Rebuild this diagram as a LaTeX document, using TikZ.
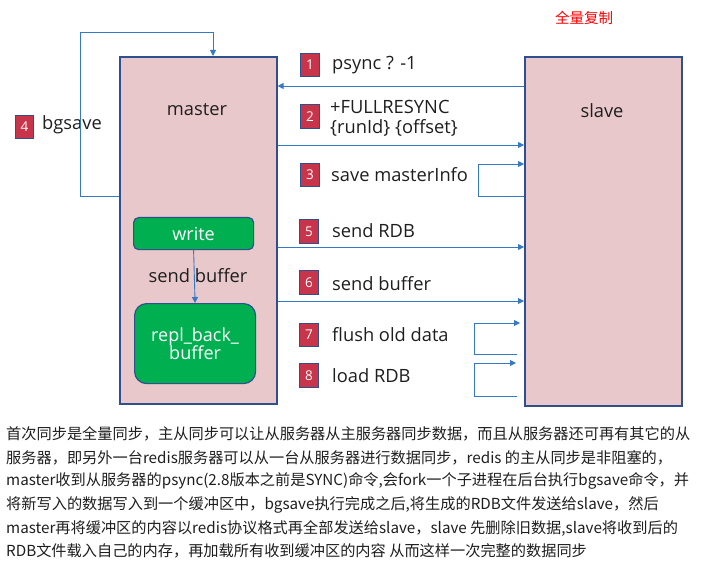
\documentclass[tikz,border=0pt]{standalone}
\usepackage{fontspec}
\setmainfont{Open Sans}
\newfontfamily\cjk{Noto Sans CJK SC}
\usetikzlibrary{arrows.meta}
\definecolor{pinkfill}{HTML}{E8C8CA}
\definecolor{boxborder}{HTML}{2F4F8F}
\definecolor{linkblue}{HTML}{3579C4}
\definecolor{badgered}{HTML}{C8344A}
\definecolor{greenfill}{HTML}{00B050}
\definecolor{txt}{HTML}{1E1E1E}
\tikzset{
  bigbox/.style={draw=boxborder, line width=1.6pt, fill=pinkfill},
  greenbox/.style={draw=boxborder, line width=1.2pt, fill=greenfill, rounded corners=5pt, text=white, font=\fontsize{18}{20}\selectfont, align=center},
  badge/.style={draw=boxborder, line width=1.2pt, fill=badgered, text=white, minimum width=18.5pt, minimum height=23.5pt, inner sep=0pt, font=\fontsize{13.5}{14}\selectfont},
  lbl/.style={anchor=west, inner sep=0pt, text=txt, font=\fontsize{18.3}{21.5}\selectfont, align=left},
  link/.style={draw=linkblue, line width=0.9pt},
  arr/.style={link, -{Triangle[length=6pt,width=6pt]}},
  para/.style={anchor=west, inner sep=0pt, text=txt, font=\cjk\fontsize{15.2}{18}\selectfont}
}
\begin{document}
\begin{tikzpicture}[x=1pt,y=-1pt]
\useasboundingbox (0,0) rectangle (722,577);
% title
\node[text=red, font=\cjk\fontsize{14.5}{16}\selectfont, inner sep=0pt] (title) at (584,18) {全量复制};
% main boxes
\node[bigbox, minimum width=157pt, minimum height=347pt, inner sep=0pt, anchor=north west] (master) at (119,56) {};
\node[bigbox, minimum width=157pt, minimum height=349pt, inner sep=0pt, anchor=north west] (slave) at (524,56) {};
\node[text=txt, font=\fontsize{18.3}{21}\selectfont, inner sep=0pt] (mtext) at (197,110) {master};
\node[text=txt, font=\fontsize{18.3}{21}\selectfont, inner sep=0pt] (stext) at (602,111) {slave};
% green boxes
\node[greenbox, minimum width=120pt, minimum height=32pt, anchor=north west, inner sep=0pt] (write) at (133,217) {write};
\node[greenbox, minimum width=121pt, minimum height=80pt, anchor=north west, inner sep=0pt, rounded corners=12pt] (repl) at (134,303) {repl\_back\_\\[-2pt]buffer};
\draw[arr] (write.south) -- (repl.north);
\node[text=txt, font=\fontsize{18.3}{21}\selectfont, inner sep=0pt] (sbuf) at (198,276) {send buffer};
% bgsave loop
\node[badge] (b4) at (24.5,127) {4};
\node[lbl] (l4) at (42,125) {bgsave};
\coordinate (bgA) at (80,196);
\coordinate (bgB) at (80,32);
\coordinate (bgC) at (213,32);
\draw[arr] (master.west |- bgA) -- (bgA) -- (bgB) -- (bgC) -- (master.north -| bgC);
% step 1
\node[badge] (b1) at (310,65) {1};
\node[lbl] (l1) at (332,65) {psync ? -1};
\coordinate (y1) at (0,86);
\draw[arr] (slave.west |- y1) -- (master.east |- y1);
% step 2
\node[badge] (b2) at (310,116.5) {2};
\node[lbl] (l2) at (330,118.5) {+FULLRESYNC\\[-1.5pt]\{runId\} \{offset\}};
\coordinate (y2) at (0,145);
\draw[arr] (master.east |- y2) -- (slave.west |- y2);
% step 3
\node[badge] (b3) at (310,175) {3};
\node[lbl] (l3) at (331,175) {save masterInfo};
\coordinate (c3a) at (478,196);
\coordinate (c3b) at (478,164);
\draw[arr] (slave.west |- c3a) -- (c3a) -- (c3b) -- (slave.west |- c3b);
% step 5
\node[badge] (b5) at (309,231.5) {5};
\node[lbl] (l5) at (332,231) {send RDB};
\coordinate (y5) at (0,247);
\draw[arr] (master.east |- y5) -- (slave.west |- y5);
% step 6
\node[badge] (b6) at (309,282.5) {6};
\node[lbl] (l6) at (332,284) {send buffer};
\coordinate (y6) at (0,301);
\draw[arr] (master.east |- y6) -- (slave.west |- y6);
% step 7
\node[badge] (b7) at (309,335) {7};
\node[lbl] (l7) at (332,335) {flush old data};
\coordinate (c7a) at (517,354);
\coordinate (c7b) at (474,354);
\coordinate (c7c) at (474,323);
\coordinate (c7d) at (520,323);
\draw[arr] (c7a) -- (c7b) -- (c7c) -- (c7d);
% step 8
\node[badge] (b8) at (309,375.5) {8};
\node[lbl] (l8) at (332,376) {load RDB};
\coordinate (c8a) at (517,396);
\coordinate (c8b) at (474,396);
\coordinate (c8c) at (474,363);
\coordinate (c8d) at (516,363);
\draw[arr] (c8a) -- (c8b) -- (c8c) -- (c8d);
% paragraph
\node[para] (p1) at (6,434) {首次同步是全量同步，主从同步可以让从服务器从主服务器同步数据，而且从服务器还可再有其它的从};
\node[para] (p2) at (6,457.5) {服务器，即另外一台redis服务器可以从一台从服务器进行数据同步，redis 的主从同步是非阻塞的，};
\node[para] (p3) at (6,481) {master收到从服务器的psync(2.8版本之前是SYNC)命令,会fork一个子进程在后台执行bgsave命令，并};
\node[para] (p4) at (6,504.5) {将新写入的数据写入到一个缓冲区中，bgsave执行完成之后,将生成的RDB文件发送给slave，然后};
\node[para] (p5) at (6,528) {master再将缓冲区的内容以redis协议格式再全部发送给slave，slave 先删除旧数据,slave将收到后的};
\node[para] (p6) at (6,551) {RDB文件载入自己的内存，再加载所有收到缓冲区的内容 从而这样一次完整的数据同步};
\end{tikzpicture}
\end{document}
